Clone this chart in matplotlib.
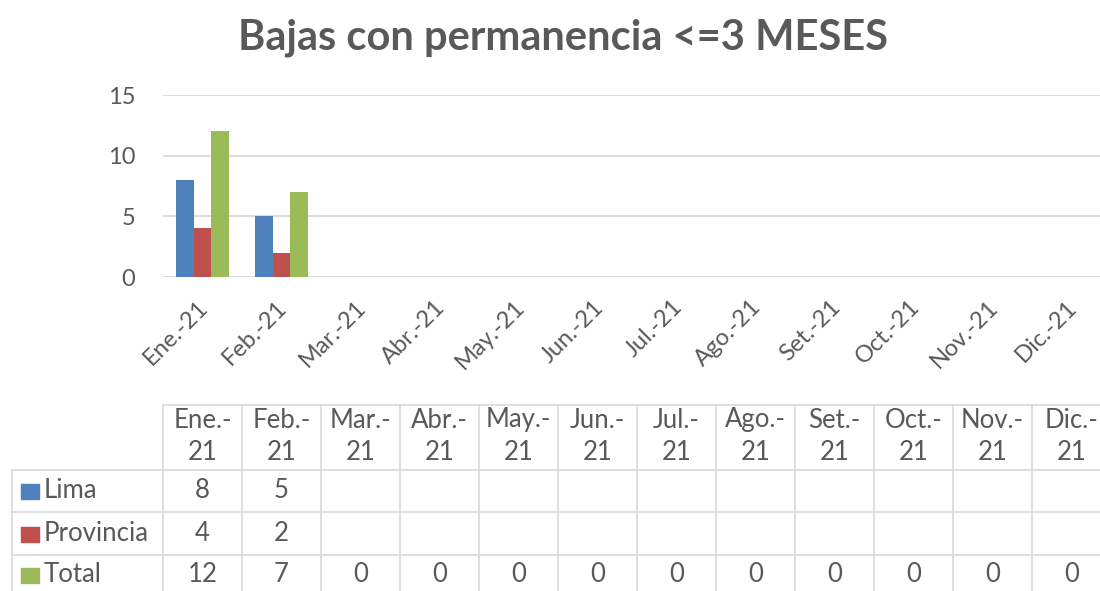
import matplotlib
matplotlib.use("Agg")
import matplotlib.pyplot as plt
import matplotlib.transforms as mtransforms
import numpy as np

plt.rcParams["font.family"] = ["Lato", "DejaVu Sans"]

# monthly data
months = ["Ene.-21", "Feb.-21", "Mar.-21", "Abr.-21", "May.-21", "Jun.-21",
          "Jul.-21", "Ago.-21", "Set.-21", "Oct.-21", "Nov.-21", "Dic.-21"]
lima = [8, 5, None, None, None, None, None, None, None, None, None, None]
provincia = [4, 2, None, None, None, None, None, None, None, None, None, None]
total = [12, 7, 0, 0, 0, 0, 0, 0, 0, 0, 0, 0]

series_names = ["Lima", "Provincia", "Total"]
series_colors = ["#4f81bd", "#c0504d", "#9bbb59"]
series_values = [lima, provincia, total]

TEXT = "#595959"
GRID = "#d9d9d9"

W, H = 1100, 591
fig = plt.figure(figsize=(W / 100, H / 100), dpi=100)


def fx(px):
    return px / W


def fy(py):
    return 1 - py / H


# plot area runs a bit past the right edge of the figure
ax_left, ax_right = 163, 1111
ax_top, ax_bottom = 95, 277
ax = fig.add_axes([fx(ax_left), fy(ax_bottom), fx(ax_right - ax_left), (ax_bottom - ax_top) / H])

x = np.arange(len(months))
bar_w = 0.225
for i, (vals, color) in enumerate(zip(series_values, series_colors)):
    heights = [v if v is not None else 0 for v in vals]
    ax.bar(x + (i - 1) * bar_w, heights, width=bar_w, color=color, zorder=3)

ax.set_xlim(-0.5, len(months) - 0.5)
ax.set_ylim(0, 15)
ax.set_yticks([0, 5, 10, 15])
ax.yaxis.grid(True, color=GRID, linewidth=1.3, zorder=0)
for s in ax.spines.values():
    s.set_visible(False)
ax.tick_params(axis="y", length=0, pad=20, labelsize=17, labelcolor=TEXT)
ax.tick_params(axis="x", length=0, pad=14)
ax.set_xticks(x)
ax.set_xticklabels(months, rotation=45, ha="right", rotation_mode="anchor",
                   fontsize=17, color=TEXT)
# nudge labels so they end just right of the category centre
offset = mtransforms.ScaledTranslation(-5 / 100, 0, fig.dpi_scale_trans)
for lbl in ax.get_xticklabels():
    lbl.set_transform(lbl.get_transform() + offset)

fig.text(0.512, fy(38), "Bajas con permanencia <=3 MESES", ha="center", va="center",
         fontsize=30, fontweight="bold", color=TEXT)

# data table below the chart: x in data units, y in figure fraction
trans = mtransforms.blended_transform_factory(ax.transData, fig.transFigure)
row_edges = [405, 470, 512, 555, 598]
col_edges = np.arange(len(months) + 1) - 0.5
lw = 1.2

# horizontal lines across the month columns
for r in row_edges:
    ax.plot([col_edges[0], col_edges[-1]], [fy(r), fy(r)], transform=trans,
            color=GRID, lw=lw, clip_on=False)
# vertical lines between month columns
for c in col_edges:
    ax.plot([c, c], [fy(row_edges[0]), fy(row_edges[-1])], transform=trans,
            color=GRID, lw=lw, clip_on=False)

# row label column
for r in row_edges[1:]:
    fig.add_artist(plt.Line2D([fx(12), fx(ax_left)], [fy(r), fy(r)], color=GRID, lw=lw))
fig.add_artist(plt.Line2D([fx(12), fx(12)], [fy(row_edges[1]), fy(row_edges[-1])], color=GRID, lw=lw))

cell_fs = 18.5
for i, m in enumerate(months):
    head, year = m.split("-")
    ax.text(i, fy(420), head + "-", transform=trans, ha="center", va="center",
            fontsize=cell_fs, color=TEXT, clip_on=False)
    ax.text(i, fy(452), year, transform=trans, ha="center", va="center",
            fontsize=cell_fs, color=TEXT, clip_on=False)

for k, (name, color, vals) in enumerate(zip(series_names, series_colors, series_values)):
    yc = (row_edges[k + 1] + row_edges[k + 2]) / 2
    if k == 2:
        yc = 575
    fig.add_artist(plt.Rectangle((fx(21), fy(yc + 8)), fx(18), 15 / H, color=color))
    fig.text(fx(44), fy(yc), name, ha="left", va="center", fontsize=cell_fs, color=TEXT)
    for i, v in enumerate(vals):
        if v is None:
            continue
        ax.text(i, fy(yc), str(v), transform=trans, ha="center", va="center",
                fontsize=cell_fs, color=TEXT, clip_on=False)

fig.savefig("out.png", dpi=100)
